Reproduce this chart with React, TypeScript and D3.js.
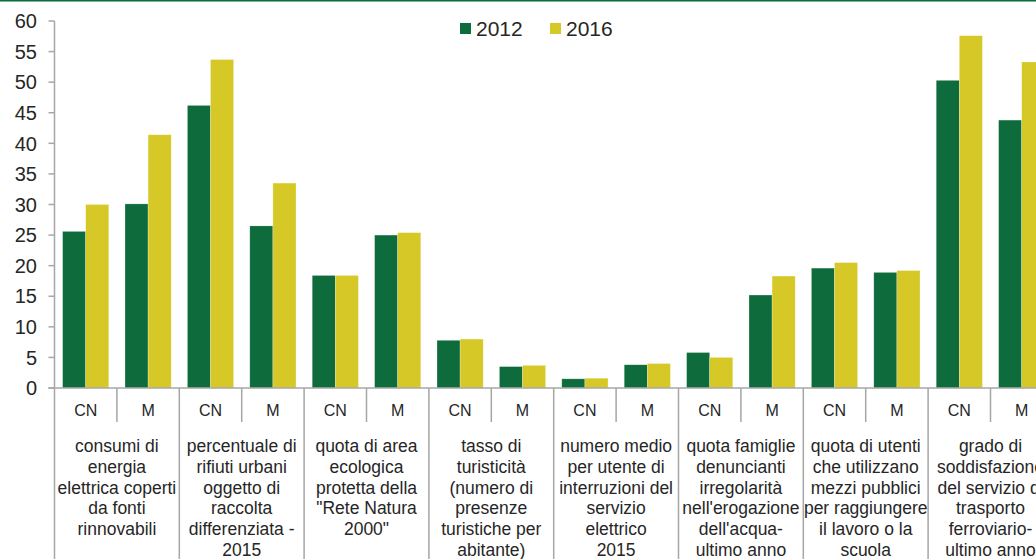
import * as React from "react";
import * as d3 from "d3";

const GROUPS = [
  ["consumi di", "energia", "elettrica coperti", "da fonti", "rinnovabili"],
  ["percentuale di", "rifiuti urbani", "oggetto di", "raccolta", "differenziata -", "2015"],
  ["quota di area", "ecologica", "protetta della", "\"Rete Natura", "2000\""],
  ["tasso di", "turisticità", "(numero di", "presenze", "turistiche per", "abitante)"],
  ["numero medio", "per utente di", "interruzioni del", "servizio", "elettrico", "2015"],
  ["quota famiglie", "denuncianti", "irregolarità", "nell'erogazione", "dell'acqua-", "ultimo anno"],
  ["quota di utenti", "che utilizzano", "mezzi pubblici", "per raggiungere", "il lavoro o la", "scuola"],
  ["grado di", "soddisfazione", "del servizio di", "trasporto", "ferroviario-", "ultimo anno"],
];
const AREAS = ["CN", "M"];
const SERIES = ["2012", "2016"];
// one value per (group, area), in order CN, M
const VALUES_2012 = [25.6, 30.1, 46.2, 26.5, 18.4, 25.0, 7.8, 3.5, 1.5, 3.8, 5.8, 15.2, 19.6, 18.9, 50.3, 43.8];
const VALUES_2016 = [30.0, 41.4, 53.7, 33.5, 18.4, 25.4, 8.0, 3.7, 1.6, 4.0, 5.0, 18.3, 20.5, 19.2, 57.6, 53.3];
const Y_TICKS = [0, 5, 10, 15, 20, 25, 30, 35, 40, 45, 50, 55, 60];

const COLORS: Record<string, string> = { "2012": "#0e6b3c", "2016": "#d6c826" };
const W = 1036;
const H = 559;
const FONT = "'Liberation Sans', Arial, sans-serif";

export default function App() {
  const ref = React.useRef<SVGSVGElement | null>(null);

  React.useEffect(() => {
    document.body.style.margin = "0";
    if (!ref.current) return;
    const svg = d3.select(ref.current);
    svg.selectAll("*").remove();

    const x0 = 54.5;
    const step = 62.4;
    const keys = GROUPS.flatMap((_, gi) => AREAS.map((a) => `${gi}-${a}`));
    const x = d3
      .scaleBand<string>()
      .domain(keys)
      .range([x0, x0 + step * keys.length])
      .paddingInner(0.26)
      .paddingOuter(0.13);
    const xs = d3.scaleBand<string>().domain(SERIES).range([0, x.bandwidth()]);
    const y = d3.scaleLinear().domain([0, 60]).range([388, 21]);

    // top rule
    svg.append("rect").attr("x", 0).attr("y", 0).attr("width", W).attr("height", 1.5).attr("fill", "#0e6b3c");

    // bars
    const vals: Record<string, number[]> = { "2012": VALUES_2012, "2016": VALUES_2016 };
    keys.forEach((k, i) => {
      SERIES.forEach((s) => {
        const v = vals[s][i];
        svg
          .append("rect")
          .attr("x", (x(k) ?? 0) + (xs(s) ?? 0))
          .attr("y", y(v))
          .attr("width", xs.bandwidth())
          .attr("height", y(0) - y(v))
          .attr("fill", COLORS[s])
          .attr("stroke", "#ffffff")
          .attr("stroke-opacity", 0.4)
          .attr("stroke-width", 0.6);
      });
    });

    const axisColor = "#a6a6a6";
    // y axis
    svg.append("line").attr("x1", x0).attr("x2", x0).attr("y1", y(60)).attr("y2", H).attr("stroke", axisColor).attr("stroke-width", 1.5);
    Y_TICKS.forEach((t) => {
      svg.append("line").attr("x1", x0 - 6).attr("x2", x0).attr("y1", y(t)).attr("y2", y(t)).attr("stroke", axisColor).attr("stroke-width", 1.5);
      svg
        .append("text")
        .attr("x", 37)
        .attr("y", y(t))
        .attr("dy", "0.36em")
        .attr("text-anchor", "end")
        .attr("font-family", FONT)
        .attr("font-size", 20)
        .attr("fill", "#262626")
        .text(t);
    });

    // baseline
    svg.append("line").attr("x1", x0 - 6).attr("x2", W).attr("y1", y(0)).attr("y2", y(0)).attr("stroke", axisColor).attr("stroke-width", 1.5);

    // area separators + labels
    keys.forEach((k, i) => {
      const left = x0 + step * i;
      const right = left + step;
      const isGroupEnd = i % 2 === 1;
      svg
        .append("line")
        .attr("x1", right)
        .attr("x2", right)
        .attr("y1", y(0))
        .attr("y2", isGroupEnd ? H : 422)
        .attr("stroke", axisColor)
        .attr("stroke-width", 1.5);
      svg
        .append("text")
        .attr("x", (left + right) / 2)
        .attr("y", 416)
        .attr("text-anchor", "middle")
        .attr("font-family", FONT)
        .attr("font-size", 16)
        .attr("fill", "#262626")
        .text(AREAS[i % 2]);
    });

    // group labels
    GROUPS.forEach((lines, gi) => {
      const cx = x0 + step * 2 * gi + step;
      const t = svg
        .append("text")
        .attr("text-anchor", "middle")
        .attr("font-family", FONT)
        .attr("font-size", 17.5)
        .attr("fill", "#262626");
      lines.forEach((ln, li) => {
        t.append("tspan").attr("x", cx).attr("y", 452 + li * 20.8).text(ln);
      });
    });

    // legend
    const legend = [
      { s: "2012", x: 460 },
      { s: "2016", x: 550 },
    ];
    legend.forEach((l) => {
      svg.append("rect").attr("x", l.x).attr("y", 23).attr("width", 11).attr("height", 11).attr("fill", COLORS[l.s]);
      svg
        .append("text")
        .attr("x", l.x + 16)
        .attr("y", 35.5)
        .attr("font-family", FONT)
        .attr("font-size", 21)
        .attr("fill", "#262626")
        .text(l.s);
    });
  }, []);

  return <svg ref={ref} width={W} height={H} style={{ display: "block", overflow: "hidden" }} />;
}
